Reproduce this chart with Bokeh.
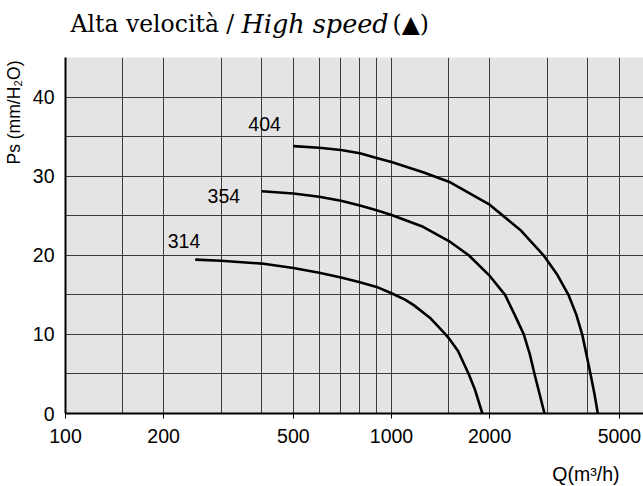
from bokeh.core.properties import value
from bokeh.embed import file_html
from bokeh.layouts import column
from bokeh.models import ColumnDataSource, FixedTicker, Label, NumeralTickFormatter, Range1d, Title
from bokeh.plotting import figure
from bokeh.resources import INLINE

# Fan curves: static pressure Ps (mm H2O) against air flow Q (m3/h)
q_314 = [250, 300, 400, 500, 600, 700, 800, 900, 1000, 1100, 1170, 1320, 1465, 1500, 1600, 1725, 1800, 1900]
ps_314 = [19.45, 19.3, 18.95, 18.4, 17.8, 17.2, 16.6, 16.0, 15.2, 14.4, 13.7, 12.0, 10.0, 9.5, 7.9, 5.0, 3.1, 0.0]

q_354 = [400, 500, 600, 700, 800, 900, 1000, 1250, 1500, 1726, 1991, 2230, 2386, 2546, 2656, 2746, 2845, 2947]
ps_354 = [28.1, 27.8, 27.4, 26.9, 26.3, 25.7, 25.1, 23.6, 21.8, 20.0, 17.5, 15.0, 12.5, 10.0, 7.5, 5.0, 2.5, 0.0]

q_404 = [500, 600, 700, 800, 900, 1000, 1250, 1500, 2000, 2500, 2927, 3230, 3490, 3689, 3846, 3962, 4078, 4193, 4295]
ps_404 = [33.8, 33.6, 33.3, 32.9, 32.3, 31.8, 30.5, 29.3, 26.4, 23.1, 20.0, 17.5, 15.0, 12.5, 10.0, 7.5, 5.0, 2.5, 0.0]

# curve names and where they are written
curve_names = ["314", "354", "404"]
name_q = [231, 306, 408]
name_ps = [21.8, 27.5, 36.6]

x_ticks = [100, 200, 500, 1000, 2000, 5000]
x_grid = [150, 200, 300, 400, 500, 600, 700, 800, 900, 1000, 1500, 2000, 3000, 4000, 5000]
y_ticks = [0, 10, 20, 30, 40]
y_grid = [5, 10, 15, 20, 25, 30, 35, 40, 45]

SANS = "Liberation Sans"
SERIF = "DejaVu Serif"


def strip(height):
    """A blank full-width band used for free text above / below the chart."""
    f = figure(
        width=643, height=height,
        x_range=Range1d(0, 643), y_range=Range1d(0, height),
        x_axis_type=None, y_axis_type=None,
        output_backend="svg", toolbar_location=None,
        min_border=0,
    )
    f.outline_line_color = None
    f.background_fill_color = "white"
    f.grid.visible = False
    return f


# ---- heading -------------------------------------------------------------
head = strip(46)
# (x from the chart's left edge, text, style, size)
heading_parts = [
    (5, "Alta velocità /", "normal", "23.5px"),
    (176, "High speed", "italic", "25.5px"),
    (327, "(▲)", "normal", "23.5px"),
]
for x0, txt, style, size in heading_parts:
    head.add_layout(Label(
        x=x0, y=22.4, x_units="screen", y_units="screen",
        text=txt, text_font=SERIF, text_font_size=size,
        text_font_style=style, text_color="black",
        text_align="left", text_baseline="middle",
    ))

# ---- chart ---------------------------------------------------------------
p = figure(
    width=643,
    height=410,
    x_axis_type="log",
    x_range=Range1d(100, 5930),
    y_range=Range1d(0, 45),
    output_backend="svg",
    toolbar_location=None,
    min_border_left=65,
    min_border_right=0,
    min_border_top=11,
    min_border_bottom=43,
)
p.background_fill_color = "#e4e4e4"
p.border_fill_color = "white"
p.outline_line_color = None

# grid
p.xgrid.ticker = FixedTicker(ticks=x_grid)
p.ygrid.ticker = FixedTicker(ticks=y_grid)
for g in (p.xgrid, p.ygrid):
    g.grid_line_color = "#3c3c3c"
    g.grid_line_width = 1
    g.grid_line_alpha = 1.0

# x axis
xa = p.xaxis[0]
xa.ticker = FixedTicker(ticks=x_ticks)
xa.formatter = NumeralTickFormatter(format="0")
xa.minor_tick_line_color = None
xa.major_tick_in = 0
xa.major_tick_out = 5
xa.major_tick_line_color = "black"
xa.axis_line_color = "black"
xa.axis_line_width = 2
xa.major_label_standoff = 10
xa.major_label_text_font = SANS
xa.major_label_text_font_size = "19.5px"
xa.major_label_text_color = "black"

# y axis
ya = p.yaxis[0]
ya.ticker = FixedTicker(ticks=y_ticks)
ya.minor_tick_line_color = None
ya.major_tick_in = 0
ya.major_tick_out = 0
ya.axis_line_color = "black"
ya.axis_line_width = 2
ya.major_label_standoff = 11
ya.major_label_text_font = SANS
ya.major_label_text_font_size = "19.5px"
ya.major_label_text_color = "black"

# curves
for qs, ps in ((q_314, ps_314), (q_354, ps_354), (q_404, ps_404)):
    p.line(qs, ps, line_color="black", line_width=2.6, line_join="round")

names = ColumnDataSource(dict(q=name_q, ps=name_ps, t=curve_names))
p.text(
    x="q", y="ps", text="t", source=names,
    text_font=value(SANS), text_font_size="19.5px", text_color="black",
    text_align="center", text_baseline="middle",
)

# y axis title, next to the top of the axis
p.add_layout(Title(
    text="Ps (mm/H₂O)", align="right", vertical_align="top", offset=3, standoff=7,
    text_font=SANS, text_font_size="17.5px", text_font_style="normal",
    text_color="black",
), "left")

# ---- x axis title ---------------------------------------------------------
foot = strip(30)
foot.add_layout(Label(
    x=554, y=13, x_units="screen", y_units="screen",
    text="Q(m³/h)", text_font=SANS, text_font_size="19.5px", text_color="black",
    text_align="right", text_baseline="middle",
))

open("out.html", "w").write(file_html(column(head, p, foot, spacing=0), INLINE))
